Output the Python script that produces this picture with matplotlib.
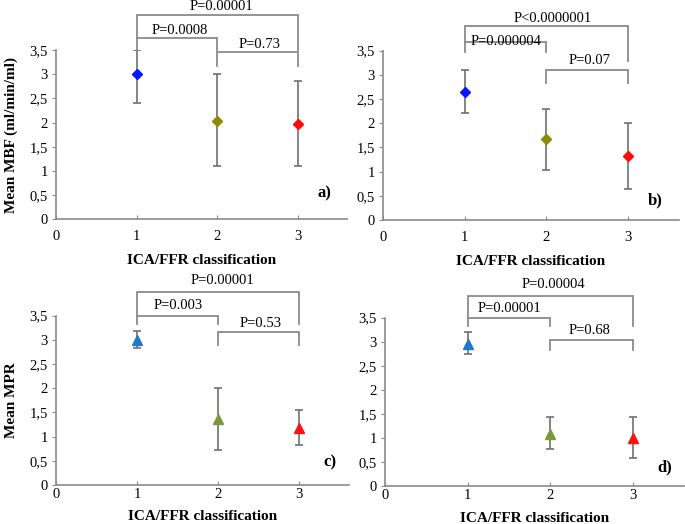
import numpy as np
import matplotlib
matplotlib.use("Agg")
import matplotlib.pyplot as plt

plt.rcParams['font.family'] = ['Liberation Serif', 'DejaVu Serif']

groups = [1, 2, 3]

# mean, lower and upper end of the error bars, per panel
mbf_a = [3.00, 2.03, 1.97]
mbf_a_lo = [2.40, 1.09, 1.09]
mbf_a_hi = [3.50, 3.00, 2.87]

mbf_b = [2.65, 1.67, 1.32]
mbf_b_lo = [2.21, 1.04, 0.65]
mbf_b_hi = [3.10, 2.30, 2.01]

mpr_c = [3.00, 1.36, 1.18]
mpr_c_lo = [2.83, 0.72, 0.83]
mpr_c_hi = [3.19, 2.00, 1.54]

mpr_d = [2.96, 1.09, 1.00]
mpr_d_lo = [2.74, 0.76, 0.58]
mpr_d_hi = [3.20, 1.43, 1.43]

# p values: (1 vs 2, 2 vs 3, 1 vs 3)
p_a = ["P=0.0008", "P=0.73", "P=0.00001"]
p_b = ["P=0.000004", "P=0.07", "P<0.0000001"]
p_c = ["P=0.003", "P=0.53", "P=0.00001"]
p_d = ["P=0.00001", "P=0.68", "P=0.00004"]

diamond_cols = ["#0a14ff", "#8c8c00", "#ff0a0a"]
triangle_cols = ["#1f78c8", "#7a9a3a", "#ff1010"]

ytick_vals = [0, 0.5, 1, 1.5, 2, 2.5, 3, 3.5]
ytick_labels = ["0", "0,5", "1", "1,5", "2", "2,5", "3", "3,5"]

fig = plt.figure(figsize=(6.85, 5.24), dpi=100)

W, H = 685.0, 524.0
xmax = 3.62
panels = [
    # left px, y0 px, px per x unit, px per y unit
    (56, 219, 80.5, 48.2),
    (383, 220, 81.7, 48.4),
    (56, 485, 81.0, 48.4),
    (385, 486, 82.6, 48.1),
]

data = [
    (mbf_a, mbf_a_lo, mbf_a_hi, "D", diamond_cols, p_a, "a)"),
    (mbf_b, mbf_b_lo, mbf_b_hi, "D", diamond_cols, p_b, "b)"),
    (mpr_c, mpr_c_lo, mpr_c_hi, "^", triangle_cols, p_c, "c)"),
    (mpr_d, mpr_d_lo, mpr_d_hi, "^", triangle_cols, p_d, "d)"),
]

# bracket geometry per panel: (y of 1-2 bar, leg end, y of 2-3 bar, leg end,
#                              y of 1-3 bar, right leg end)
brackets = [
    (3.75, 3.51, 3.46, 3.17, 4.24, 3.51),
    (3.67, 3.48, 3.09, 2.83, 4.00, 3.29),
    (3.50, 3.33, 3.16, 2.89, 3.98, 3.33),
    (3.50, 3.33, 3.04, 2.82, 3.96, 3.33),
]
text_pos = [
    ((1.54, 3.92), (2.53, 3.63), (2.06, 4.41)),
    ((1.51, 3.69), (2.53, 3.29), (2.08, 4.16)),
    ((1.51, 3.71), (2.53, 3.33), (2.05, 4.22)),
    ((1.51, 3.69), (2.48, 3.24), (2.04, 4.18)),
]
letter_pos = [(3.34, 0.54), (3.33, 0.41), (3.38, 0.47), (3.39, 0.39)]
ylabels = ["Mean MBF (ml/min/ml)", "", "Mean MPR", ""]
# tick label pad and x label pad: top row looser than bottom row
xpads = [(8, 8), (8, 8), (2, 7), (2, 7)]

gray = "#8a8a8a"

for i, (left, y0, sx, sy) in enumerate(panels):
    ax = fig.add_axes([left / W, (H - y0) / H, xmax * sx / W, 3.5 * sy / H])
    mean, lo, hi, mk, cols, pv, letter = data[i]
    mean = np.array(mean)
    yerr = [mean - np.array(lo), np.array(hi) - mean]
    for g in range(3):
        ax.errorbar(groups[g], mean[g],
                    yerr=[[yerr[0][g]], [yerr[1][g]]],
                    fmt="none", ecolor="#707070", elinewidth=1.2,
                    capsize=3, capthick=1.2, zorder=2)
        ax.plot(groups[g], mean[g], marker=mk, color=cols[g],
                markersize=5.5 if mk == "D" else 6.5, linestyle="none",
                zorder=3)

    b12, l12, b23, l23, b13, r13 = brackets[i]
    kw = dict(color=gray, lw=1.3, clip_on=False, solid_joinstyle="miter")
    ax.plot([1, 1, 2, 2], [l12, b12, b12, l12], **kw)
    ax.plot([2, 2, 3, 3], [l23, b23, b23, l23], **kw)
    ax.plot([1, 1, 3, 3], [b12, b13, b13, r13], **kw)

    for (tx, ty), s in zip(text_pos[i], pv):
        ax.text(tx, ty, s, ha="center", va="center", fontsize=10.5)

    ax.text(letter_pos[i][0], letter_pos[i][1], letter, ha="center",
            va="center", fontsize=12, fontweight="bold")

    ax.set_xlim(0, xmax)
    ax.set_ylim(0, 3.5)
    ax.set_xticks([0, 1, 2, 3])
    ax.set_xticklabels(["0", "1", "2", "3"])
    ax.set_yticks(ytick_vals)
    ax.set_yticklabels(ytick_labels)
    ax.spines["top"].set_visible(False)
    ax.spines["right"].set_visible(False)
    for sp in ("left", "bottom"):
        ax.spines[sp].set_color(gray)
        ax.spines[sp].set_linewidth(1.2)
    ax.tick_params(axis="y", direction="out", length=3, color=gray,
                   labelsize=10.5, pad=3)
    ax.tick_params(axis="x", direction="in", length=3, color=gray,
                   labelsize=10.5, pad=xpads[i][0])
    ax.set_xlabel("ICA/FFR classification", fontsize=11, fontweight="bold",
                  labelpad=xpads[i][1])
    if ylabels[i]:
        ax.set_ylabel(ylabels[i], fontsize=11, fontweight="bold", labelpad=8)

fig.savefig("out.png", dpi=100)
